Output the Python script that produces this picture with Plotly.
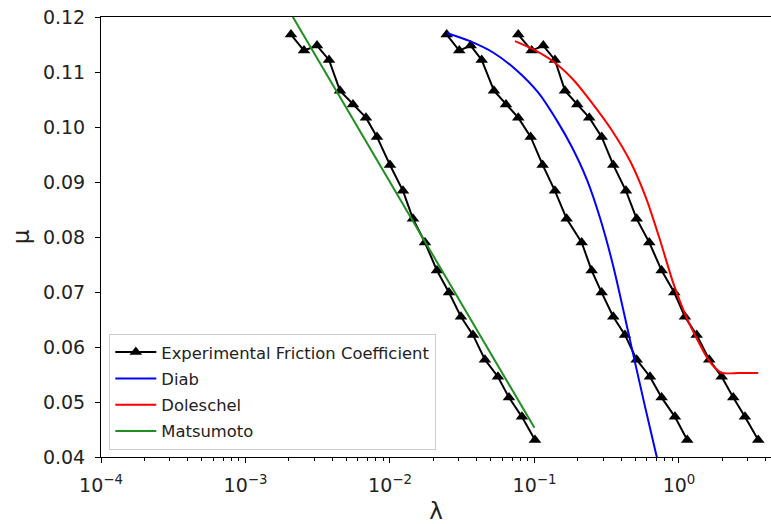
import plotly.graph_objects as go

# ---- data ----
mu_exp = [0.1168, 0.1139, 0.1148, 0.1122, 0.1066, 0.1041, 0.1017, 0.0982, 0.0931, 0.0884,
          0.0833, 0.0790, 0.0739, 0.0699, 0.0655, 0.0622, 0.0577, 0.0546, 0.0508, 0.0473, 0.0431]
lam_exp1 = [0.002065, 0.002541, 0.003126, 0.003785, 0.004508, 0.005545, 0.006822, 0.008128, 0.0100, 0.0123,
            0.01443, 0.01747, 0.02115, 0.02560, 0.03099, 0.03752, 0.04542, 0.05587, 0.06663, 0.0819, 0.1008]
lam_exp2 = [0.02469, 0.03017, 0.03619, 0.04311, 0.05244, 0.06350, 0.07724, 0.09413, 0.1139, 0.1386,
            0.1670, 0.2122, 0.2488, 0.2918, 0.3510, 0.4229, 0.5097, 0.6300, 0.7589, 0.9382, 1.141]
lam_exp3 = [0.07724, 0.09563, 0.1151, 0.1386, 0.1626, 0.1978, 0.2394, 0.2918, 0.3510, 0.4297,
            0.5097, 0.6231, 0.7589, 0.9279, 1.100, 1.326, 1.620, 1.975, 2.376, 2.862, 3.539]

lam_diab = [0.02469, 0.03578, 0.05203, 0.07447, 0.1066, 0.1420, 0.1804, 0.2309, 0.2840, 0.3510,
            0.4580, 0.5817, 0.7010, 0.7300]
mu_diab = [0.1171, 0.1156, 0.1135, 0.1104, 0.1062, 0.1013, 0.0965, 0.0904, 0.0835, 0.0747,
           0.0613, 0.0492, 0.0401, 0.0380]

lam_dol = [0.0733, 0.0981, 0.1349, 0.1856, 0.2499, 0.3411, 0.4654, 0.5977, 0.7387, 0.9134,
           1.131, 1.360, 1.595, 1.775, 1.984, 2.600, 3.539]
mu_dol = [0.1156, 0.1141, 0.1119, 0.1086, 0.1044, 0.0995, 0.0935, 0.0868, 0.0795, 0.0716,
          0.0653, 0.0610, 0.0577, 0.05624, 0.05527, 0.05527, 0.05527]

lam_mat = [0.0020, 0.1000]
mu_mat = [0.1212, 0.0453]

x_tickvals = [1e-4, 1e-3, 1e-2, 1e-1, 1e0]
x_ticktext = ["10<sup>\u22124</sup>", "10<sup>\u22123</sup>", "10<sup>\u22122</sup>",
              "10<sup>\u22121</sup>", "10<sup>0</sup>"]
y_tickvals = [0.04, 0.05, 0.06, 0.07, 0.08, 0.09, 0.10, 0.11, 0.12]

FONT = "DejaVu Sans"
fig = go.Figure()

for i, lam in enumerate([lam_exp1, lam_exp2, lam_exp3]):
    fig.add_trace(go.Scatter(
        x=lam, y=mu_exp, mode="lines+markers",
        line=dict(color="black", width=2),
        marker=dict(symbol="triangle-up", size=11, color="black"),
        name="Experimental Friction Coefficient",
        legendgroup="exp", showlegend=(i == 0)))

fig.add_trace(go.Scatter(x=lam_diab, y=mu_diab, mode="lines", name="Diab",
                         line=dict(color="#0000ff", width=2, shape="spline", smoothing=0.8),
                         legendgroup="diab"))
fig.add_trace(go.Scatter(x=lam_dol, y=mu_dol, mode="lines", name="Doleschel",
                         line=dict(color="#ff0000", width=2, shape="spline", smoothing=0.6),
                         legendgroup="dol"))
fig.add_trace(go.Scatter(x=lam_mat, y=mu_mat, mode="lines", name="Matsumoto",
                         line=dict(color="#1f8f1f", width=2), legendgroup="mat"))

fig.update_layout(
    width=771, height=524, autosize=False,
    margin=dict(l=101, r=0, t=17, b=67),
    paper_bgcolor="white", plot_bgcolor="white",
    font=dict(family=FONT, size=19, color="#222222"),
    legend=dict(x=0.0124, y=0.016, xanchor="left", yanchor="bottom",
                bgcolor="rgba(255,255,255,0.8)", bordercolor="#cccccc", borderwidth=1,
                font=dict(family=FONT, size=16.4, color="#222222"),
                itemwidth=41,
                traceorder="grouped", tracegroupgap=2),
    xaxis=dict(type="log", range=[-4, 0.637],
               tickvals=x_tickvals, ticktext=x_ticktext,
               ticks="outside", ticklen=5, tickwidth=1, tickcolor="black",
               ticklabelstandoff=6,
               minor=dict(ticks="outside", ticklen=3, tickwidth=1, tickcolor="black",
                          dtick="D1", showgrid=False),
               showline=True, linecolor="black", linewidth=1, mirror=True,
               showgrid=False, zeroline=False,
               title=dict(text="\u03bb", standoff=8)),
    yaxis=dict(range=[0.04, 0.12], tickvals=y_tickvals, tickformat=".2f",
               ticks="outside", ticklen=5, tickwidth=1, tickcolor="black",
               ticklabelstandoff=6,
               showline=True, linecolor="black", linewidth=1,
               showgrid=False, zeroline=False,
               title=dict(text="\u03bc", standoff=6)),
)

fig.write_html("out.html")
